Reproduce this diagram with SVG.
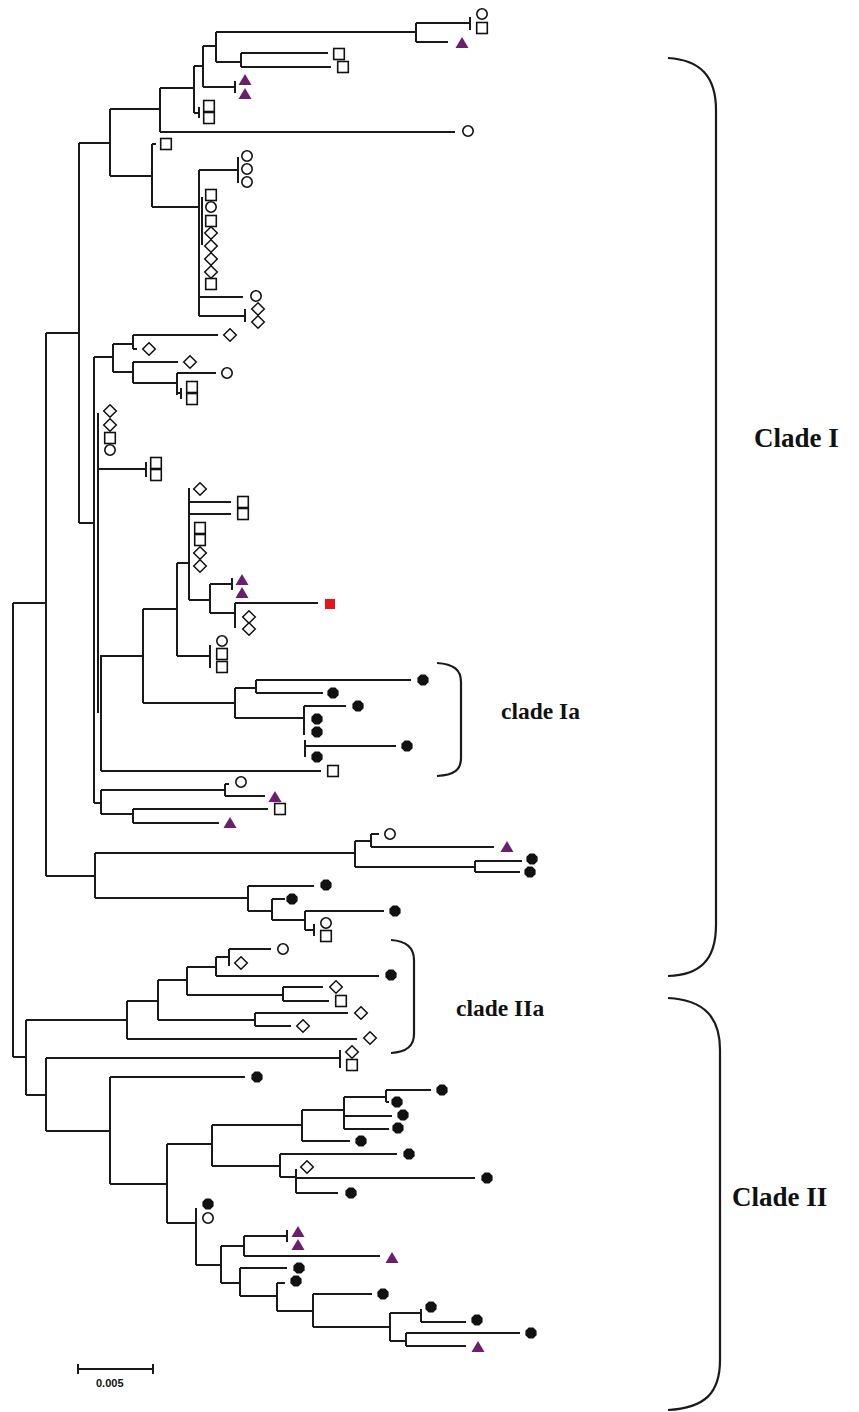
<svg xmlns="http://www.w3.org/2000/svg" width="859" height="1412" viewBox="0 0 859 1412">
<style>
.br{fill:none;stroke:#1a1a1a;stroke-width:2;stroke-linecap:butt}
.bk2{fill:none;stroke:#1a1a1a;stroke-width:2.2}
.lbl{font-family:"Liberation Serif","Times New Roman",serif;fill:#111;font-weight:bold}
.sc{font-family:"Liberation Sans",Arial,sans-serif;fill:#111;font-weight:bold}
</style>
<defs>
<circle id="ci" r="5.2" fill="#fff" stroke="#111" stroke-width="1.6"/>
<rect id="sq" x="-5.3" y="-5.5" width="10.6" height="11" fill="#fff" stroke="#111" stroke-width="1.6"/>
<polygon id="di" points="0,-6.3 6.3,0 0,6.3 -6.3,0" fill="#fff" stroke="#111" stroke-width="1.5"/>
<polygon id="tr" points="0,-6 6.5,5 -6.5,5" fill="#6b1e6e"/>
<polygon id="bk" points="5.6,2.3 2.3,5.6 -2.3,5.6 -5.6,2.3 -5.6,-2.3 -2.3,-5.6 2.3,-5.6 5.6,-2.3" fill="#111"/>
<rect id="rd" x="-5" y="-5" width="10" height="10" fill="#e5151b"/>
</defs>
<rect width="859" height="1412" fill="#fff"/>
<g id="connectors" class="br">
<path d="M13,603V1057M13,603H46M13,1057H26M46,333V876M46,333H79M46,876H95M79,143V523M79,143H110M79,523H94M110,109V176M110,109H160M110,176H152M160,88V132M160,88H194M160,132H455M194,66V113M194,66H203M194,113H199M199,107V118M203,46V87M203,46H216M203,87H235M235,81V93M216,32V62M216,32H416M216,62H241M416,23V42M416,23H470M470,17V30M416,42H448M241,53V67M241,53H328M241,67H331M152,144V207M152,144H156M152,207H199M199,170V316M202,197V245M199,170H238M238,157V183M199,297H243M199,316H245M245,309V322"/>
<path d="M94,357V803M94,357H113M113,344V372M113,344H133M113,372H133M133,335V349M133,335H218M133,349H137M133,362V383M133,362H178M133,383H177M177,373V395M177,373H216M177,393H181M181,388V399M98,413V713M98,469H146M146,462V477M177,563V656M177,563H189M189,488V600M189,502H231M189,514H231M189,600H210M210,584V613M210,584H232M232,578V590M210,613H235M235,603V628M235,603H318M177,656H210M210,645V668M143,609V703M143,609H177M143,703H235M101,655V771M101,656H143M101,771H321M235,688V718M235,688H256M256,680V693M256,680H411M256,693H323M235,718H304M304,706V735M304,706H346M305,740V757M305,746H396M94,803H101M101,790V814M101,790H225M225,784V796M225,784H229M225,796H265M101,814H133M133,809V823M133,809H268M133,823H219"/>
<path d="M95,853V898M95,853H355M355,841V867M355,841H371M371,834V847M371,834H379M371,847H494M355,867H475M475,861V872M475,861H522M475,872H520M95,898H248M248,886V911M248,886H314M248,911H272M272,899V920M272,899H285M272,920H305M305,911V930M305,911H384M305,930H314M314,924V936"/>
<path d="M26,1020V1095M26,1020H127M127,1001V1039M127,1001H158M127,1039H357M158,980V1020M158,980H187M158,1020H255M187,967V995M187,967H216M187,995H283M216,957V976M216,957H229M216,976H379M229,949V966M229,949H271M283,987V1001M283,987H323M283,1001H329M255,1013V1026M255,1013H348M255,1026H291M26,1095H46M46,1058V1131M46,1058H340M340,1050V1068M46,1131H110M110,1077V1184M110,1077H245M110,1184H167M167,1144V1223M167,1144H212M212,1125V1166M212,1125H302M212,1166H280M302,1110V1141M302,1110H344M302,1141H350M344,1097V1129M344,1097H386M344,1116H392M344,1129H389M386,1090V1102M386,1090H431M386,1102H389M280,1154V1177M280,1154H397M280,1177H296M296,1169V1193M296,1178H475M296,1193H338M167,1223H196M196,1208V1265M196,1265H221M221,1246V1283M221,1246H244M221,1283H240M244,1236V1256M244,1236H287M287,1230V1242M244,1256H380M240,1268V1296M240,1268H287M240,1296H277M277,1283V1311M277,1283H285M277,1311H313M313,1294V1327M313,1294H372M313,1327H390M390,1313V1341M390,1313H421M390,1341H406M421,1309V1322M421,1322H466M406,1333V1346M406,1333H520M406,1346H466"/>
</g>
<g id="leaves">
<use href="#ci" x="482" y="14"/><use href="#sq" x="482" y="28"/><use href="#tr" x="462" y="43"/>
<use href="#sq" x="339" y="54"/><use href="#sq" x="343" y="67"/>
<use href="#tr" x="245" y="80"/><use href="#tr" x="245" y="94"/>
<use href="#sq" x="209" y="106"/><use href="#sq" x="209" y="118"/>
<use href="#ci" x="468" y="131"/>
<use href="#sq" x="166" y="144"/>
<use href="#ci" x="247" y="156"/><use href="#ci" x="247" y="169"/><use href="#ci" x="247" y="182"/>
<use href="#sq" x="211" y="195"/><use href="#ci" x="211" y="207"/><use href="#sq" x="211" y="221"/><use href="#di" x="211" y="233"/><use href="#di" x="211" y="246"/><use href="#di" x="211" y="259"/><use href="#di" x="211" y="272"/><use href="#sq" x="211" y="284"/>
<use href="#ci" x="256" y="296"/>
<use href="#di" x="258" y="309"/><use href="#di" x="258" y="322"/>
<use href="#di" x="230" y="335"/><use href="#di" x="149" y="349"/><use href="#di" x="190" y="362"/><use href="#ci" x="227" y="373"/><use href="#sq" x="192" y="387"/><use href="#sq" x="192" y="399"/>
<use href="#di" x="110" y="411"/><use href="#di" x="110" y="425"/><use href="#sq" x="110" y="438"/><use href="#ci" x="110" y="450"/>
<use href="#sq" x="156" y="463"/><use href="#sq" x="156" y="475"/>
<use href="#di" x="200" y="489"/><use href="#sq" x="243" y="502"/><use href="#sq" x="243" y="514"/><use href="#sq" x="200" y="528"/><use href="#sq" x="200" y="540"/><use href="#di" x="200" y="553"/><use href="#di" x="200" y="566"/>
<use href="#tr" x="242" y="580"/><use href="#tr" x="242" y="593"/>
<use href="#rd" x="330" y="604"/>
<use href="#di" x="249" y="617"/><use href="#di" x="249" y="629"/>
<use href="#ci" x="222" y="641"/><use href="#sq" x="222" y="654"/><use href="#sq" x="222" y="667"/>
<use href="#bk" x="423" y="680"/><use href="#bk" x="333" y="693"/><use href="#bk" x="358" y="706"/><use href="#bk" x="317" y="719"/><use href="#bk" x="317" y="732"/><use href="#bk" x="407" y="746"/><use href="#bk" x="317" y="757"/>
<use href="#sq" x="333" y="771"/>
<use href="#ci" x="241" y="782"/><use href="#tr" x="275" y="797"/><use href="#sq" x="280" y="809"/><use href="#tr" x="230" y="823"/>
<use href="#ci" x="390" y="834"/><use href="#tr" x="507" y="847"/><use href="#bk" x="532" y="859"/><use href="#bk" x="530" y="872"/>
<use href="#bk" x="326" y="885"/><use href="#bk" x="292" y="899"/><use href="#bk" x="395" y="911"/><use href="#ci" x="326" y="923"/><use href="#sq" x="326" y="936"/>
<use href="#ci" x="283" y="949"/><use href="#di" x="241" y="963"/><use href="#bk" x="391" y="975"/><use href="#di" x="336" y="987"/><use href="#sq" x="341" y="1001"/><use href="#di" x="361" y="1013"/><use href="#di" x="303" y="1026"/><use href="#di" x="370" y="1038"/>
<use href="#di" x="352" y="1052"/><use href="#sq" x="352" y="1065"/>
<use href="#bk" x="257" y="1077"/><use href="#bk" x="442" y="1090"/><use href="#bk" x="397" y="1102"/><use href="#bk" x="403" y="1115"/><use href="#bk" x="398" y="1128"/><use href="#bk" x="361" y="1141"/><use href="#bk" x="409" y="1154"/><use href="#di" x="307" y="1167"/><use href="#bk" x="487" y="1178"/><use href="#bk" x="351" y="1193"/>
<use href="#bk" x="208" y="1204"/><use href="#ci" x="208" y="1218"/>
<use href="#tr" x="298" y="1232"/><use href="#tr" x="298" y="1245"/><use href="#tr" x="392" y="1258"/>
<use href="#bk" x="299" y="1268"/><use href="#bk" x="296" y="1281"/><use href="#bk" x="383" y="1294"/><use href="#bk" x="431" y="1307"/><use href="#bk" x="477" y="1320"/><use href="#bk" x="531" y="1333"/><use href="#tr" x="478" y="1347"/>
</g>
<g id="clade-I">
<path class="bk2" d="M668,58C700,60 716,76 716,110V925C716,960 700,975 668,976"/>
<text class="lbl" x="754" y="447" font-size="27">Clade I</text>
</g>
<g id="clade-II">
<path class="bk2" d="M668,998C705,1000 720,1018 720,1050V1360C720,1393 705,1408 668,1410"/>
<text class="lbl" x="732" y="1206" font-size="27">Clade II</text>
</g>
<g id="clade-Ia">
<path class="bk2" d="M437,663C454,664 461,670 461,682V758C461,770 454,775 437,776"/>
<text class="lbl" x="501" y="719" font-size="23.5">clade Ia</text>
</g>
<g id="clade-IIa">
<path class="bk2" d="M391,940C407,941 414,948 414,960V1034C414,1046 407,1052 391,1053"/>
<text class="lbl" x="456" y="1016" font-size="23.5">clade IIa</text>
</g>
<g id="scale-bar">
<path class="br" d="M78,1369H153M78,1364V1374M153,1364V1374"/>
<text class="sc" x="96" y="1387" font-size="11">0.005</text>
</g>
</svg>
